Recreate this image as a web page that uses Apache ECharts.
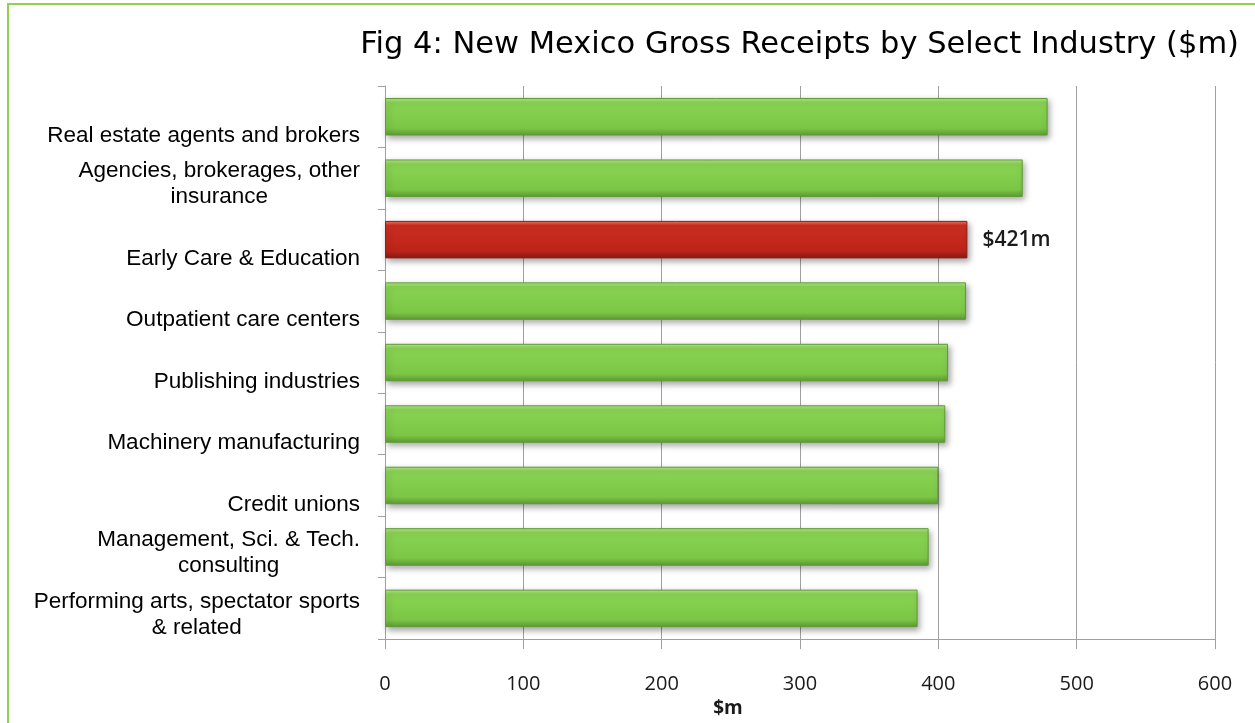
<!DOCTYPE html>
<html>
<head>
<meta charset="utf-8">
<script src="https://cdn.jsdelivr.net/npm/echarts@6/dist/echarts.min.js"></script>
<style>
  html, body { margin: 0; padding: 0; background: #fff; overflow: hidden; }
  #chart { width: 1255px; height: 723px; }
  #frame { position: absolute; left: 7px; top: 3px; width: 1300px; height: 800px;
           border-left: 2px solid #92d050; border-top: 2px solid #92d050; pointer-events: none; }
</style>
</head>
<body>
<div id="chart"></div>
<div id="frame"></div>
<script>
const titleText = 'Fig 4: New Mexico Gross Receipts by Select Industry ($m)';
const categories = [
  'Real estate agents and brokers',
  'Agencies, brokerages, other\ninsurance',
  'Early Care & Education',
  'Outpatient care centers',
  'Publishing industries',
  'Machinery manufacturing',
  'Credit unions',
  'Management, Sci. & Tech.\nconsulting',
  'Performing arts, spectator sports\n& related'
];
const values = [479, 461, 421, 420, 407, 405, 400, 393, 385];
const highlightCategory = 'Early Care & Education';
const highlightLabel = '$421m';
const xTicks = [0, 100, 200, 300, 400, 500, 600];
const axisName = '$m';

const greenFill = {
  type: 'linear', x: 0, y: 0, x2: 0, y2: 1,
  colorStops: [
    { offset: 0, color: '#b2e88a' },
    { offset: 0.12, color: '#8ad454' },
    { offset: 0.8, color: '#7cc646' },
    { offset: 1, color: '#5e9c34' }
  ]
};
const redFill = {
  type: 'linear', x: 0, y: 0, x2: 0, y2: 1,
  colorStops: [
    { offset: 0, color: '#f77a68' },
    { offset: 0.12, color: '#cc2e22' },
    { offset: 0.8, color: '#bc2419' },
    { offset: 1, color: '#8a1a12' }
  ]
};

const seriesData = values.map((v, i) => {
  const hi = categories[i] === highlightCategory;
  return {
    value: v,
    itemStyle: {
      color: hi ? redFill : greenFill,
      borderColor: hi ? '#8e1d15' : '#5f9a35',
      borderWidth: 1
    },
    label: hi ? {
      show: true, position: 'right', distance: 15,
      formatter: highlightLabel,
      fontFamily: 'Open Sans', fontSize: 21, fontWeight: 600, color: '#1a1a1a'
    } : { show: false }
  };
});

const chart = echarts.init(document.getElementById('chart'), null, { renderer: 'canvas' });
chart.setOption({
  animation: false,
  backgroundColor: '#ffffff',
  title: {
    text: titleText,
    right: 11, top: 25,
    textStyle: { fontFamily: 'DejaVu Sans', fontSize: 30.5, fontWeight: 'normal', color: '#000' }
  },
  grid: { left: 385, right: 40, top: 86, bottom: 80, containLabel: false },
  xAxis: {
    type: 'value',
    min: xTicks[0], max: xTicks[xTicks.length - 1], interval: 100,
    name: axisName, nameLocation: 'middle', nameGap: 52,
    nameTextStyle: { fontFamily: 'Open Sans', fontSize: 19, fontWeight: 'bold', color: '#1a1a1a', padding: [0, 144, 0, 0] },
    axisLine: { show: true, lineStyle: { color: '#a0a0a0', width: 1 } },
    axisTick: { show: true, length: 10, lineStyle: { color: '#a0a0a0' } },
    axisLabel: { margin: 35, fontFamily: 'Open Sans', fontSize: 20, color: '#1a1a1a' },
    splitLine: { show: true, lineStyle: { color: '#a0a0a0', width: 1 } }
  },
  yAxis: {
    type: 'category',
    inverse: true,
    data: categories,
    axisLine: { show: true, lineStyle: { color: '#a0a0a0', width: 1 } },
    axisTick: { show: true, length: 7, lineStyle: { color: '#a0a0a0' } },
    axisLabel: {
      margin: 25, align: 'right', verticalAlign: 'middle',
      padding: [12, 0, 0, 0],
      formatter: function (v) {
        const lines = v.split('\n');
        if (lines.length === 1) lines.unshift('');
        return lines.map(s => '{c|' + s + '}').join('\n');
      },
      rich: {
        c: { align: 'center', fontFamily: 'Liberation Sans', fontSize: 22.5, lineHeight: 26, color: '#000' }
      }
    }
  },
  series: [{
    type: 'bar',
    data: seriesData,
    barCategoryGap: '39%',
    itemStyle: {
      shadowColor: 'rgba(0,0,0,0.35)', shadowBlur: 6, shadowOffsetX: 2, shadowOffsetY: 3
    }
  }]
});
</script>
</body>
</html>
